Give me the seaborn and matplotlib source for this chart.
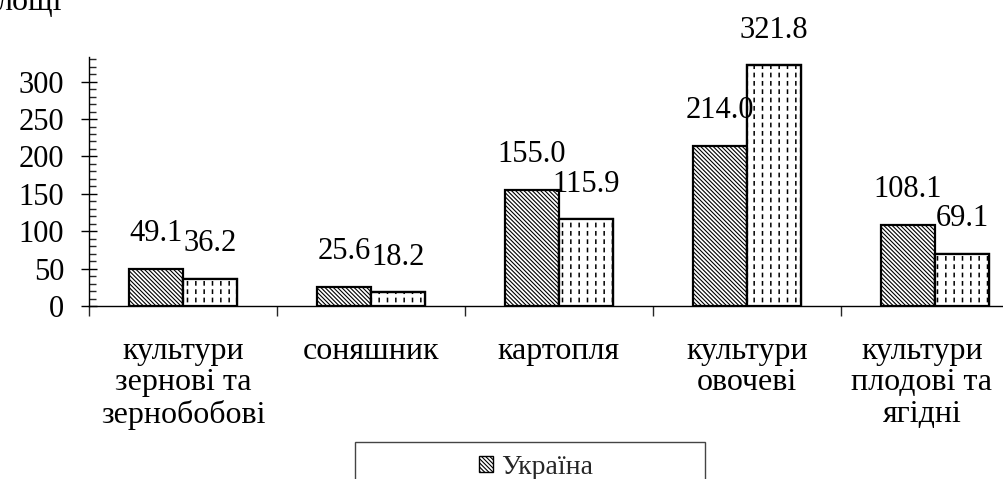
import numpy as np
import pandas as pd
import matplotlib
matplotlib.use("Agg")
import matplotlib.pyplot as plt
from matplotlib.patches import Rectangle
from matplotlib.ticker import MultipleLocator, FixedLocator, NullFormatter
from matplotlib.transforms import ScaledTranslation
import seaborn as sns

sns.set_theme(style="white")
plt.rcParams['font.family'] = ['Liberation Serif', 'DejaVu Serif']
plt.rcParams['hatch.linewidth'] = 0.8

# data
CATEGORIES = ["культури\nзернові та\nзернобобові", "соняшник", "картопля",
              "культури\nовочеві", "культури\nплодові та\nягідні"]
UKRAINE = [49.1, 25.6, 155.0, 214.0, 108.1]
REGION = [36.2, 18.2, 115.9, 321.8, 69.1]
SERIES = ["Україна", "регіон"]

DIAG = '\\' * 8

df = pd.DataFrame({"category": CATEGORIES * 2,
                   "value": UKRAINE + REGION,
                   "series": [SERIES[0]] * len(CATEGORIES) + [SERIES[1]] * len(CATEGORIES)})

fig = plt.figure(figsize=(10.04, 4.79), dpi=100)
ax = fig.add_axes([89 / 1004, 1 - 306 / 479, 940 / 1004, 249 / 479])

sns.barplot(data=df, x="category", y="value", hue="series", width=0.574, gap=0,
            palette=["white", "white"], saturation=1, edgecolor="black",
            linewidth=1.6, errorbar=None, legend=False, ax=ax)

# hatching: dense diagonal for Ukraine, dashed verticals for the region
for bar in ax.containers[0]:
    bar.set_hatch(DIAG)
for bar in ax.containers[1]:
    bar.set_hatch('||')
    if hasattr(bar, 'set_hatch_linewidth'):
        bar.set_hatch_linewidth(1.1)
    gaps = Rectangle(bar.get_xy(), bar.get_width(), bar.get_height(), fill=False,
                     hatch='--', edgecolor='white', linewidth=0, zorder=bar.get_zorder() + 0.1)
    if hasattr(gaps, 'set_hatch_linewidth'):
        gaps.set_hatch_linewidth(2.6)
    ax.add_patch(gaps)
    ax.add_patch(Rectangle(bar.get_xy(), bar.get_width(), bar.get_height(), fill=False,
                           edgecolor='black', linewidth=1.6, zorder=bar.get_zorder() + 0.2))

for cont in ax.containers:
    ax.bar_label(cont, fmt="%.1f", padding=15, fontsize=22, color="black")

ax.set_xlim(-0.5, 4.5)
ax.set_ylim(0, 333)
ax.set_xlabel("")
ax.set_ylabel("")

ax.yaxis.set_major_locator(MultipleLocator(50))
ax.yaxis.set_minor_locator(MultipleLocator(10))
ax.tick_params(axis='y', which='major', direction='inout', length=12, width=1,
               labelsize=22, pad=12, colors='black', left=True)
ax.tick_params(axis='y', which='minor', direction='in', length=5, width=1, left=True)

ax.xaxis.set_minor_locator(FixedLocator(np.arange(-0.5, 5, 1)))
ax.xaxis.set_minor_formatter(NullFormatter())
ax.tick_params(axis='x', which='major', length=0, labelsize=23, pad=22, colors='black')
ax.tick_params(axis='x', which='minor', direction='out', length=7, width=1, bottom=True)
xlabs = ax.get_xticklabels()
for lab in xlabs:
    lab.set_linespacing(1.12)
    lab.set_multialignment('center')
# last label is pushed left so it stays inside the picture
xlabs[-1].set_transform(xlabs[-1].get_transform()
                        + ScaledTranslation(-0.13, 0, fig.dpi_scale_trans))

for side in ['top', 'right']:
    ax.spines[side].set_visible(False)
for side in ['left', 'bottom']:
    ax.spines[side].set_color('black')
    ax.spines[side].set_linewidth(1)

# legend, clipped by the bottom edge as in the reference
handle = Rectangle((0, 0), 1, 1, facecolor='white', edgecolor='black',
                   hatch=DIAG, linewidth=1)
fig.legend(handles=[handle], labels=[SERIES[0]], loc='center',
           bbox_to_anchor=(536 / 1004, 1 - 467 / 479), frameon=False, fontsize=20,
           handlelength=0.5, handleheight=0.5, handletextpad=0.3)
fig.add_artist(Rectangle((355 / 1004, -0.05), 350 / 1004, (479 - 442) / 479 + 0.05,
                         transform=fig.transFigure, fill=False, edgecolor='#444444',
                         linewidth=1))

# cut-off heading fragment at the top-left
fig.text(-0.003, 1 - 10 / 479, "лощі", fontsize=23, va='baseline', color='black')

fig.savefig("out.png", dpi=100)
